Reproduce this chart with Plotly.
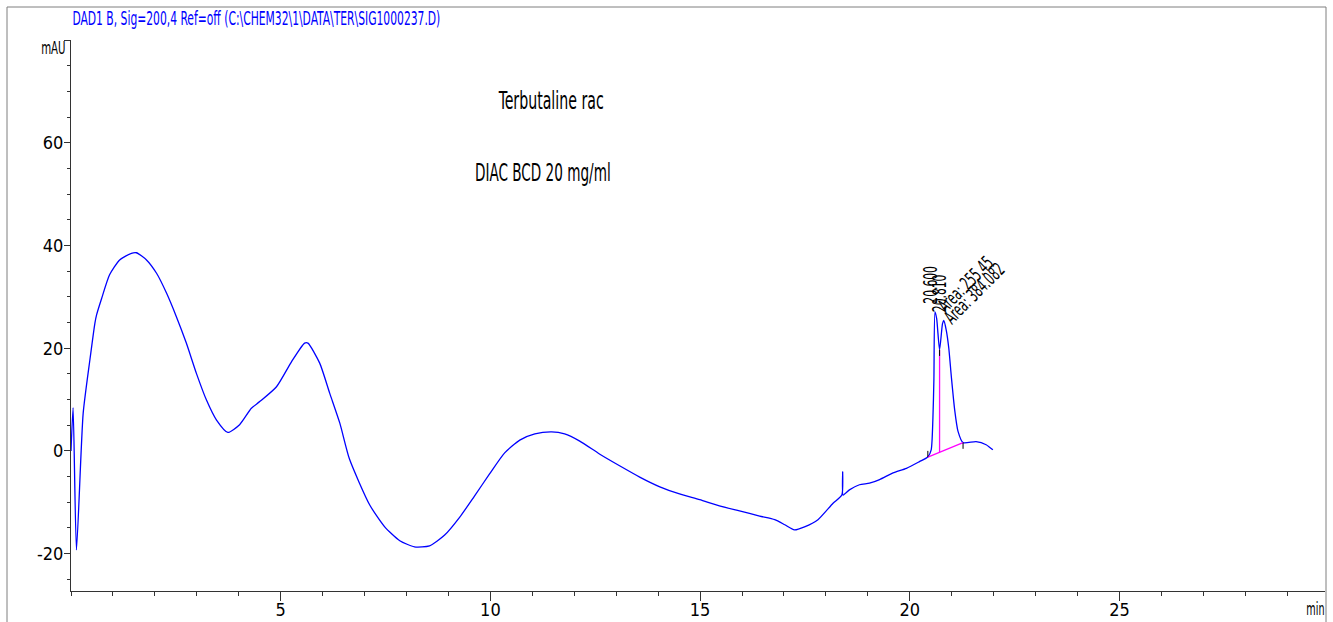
import json
import plotly.graph_objects as go

# Chromatogram: DAD1 B, 200 nm
time_min = [
    0.00, 0.05, 0.13, 0.29, 0.45, 0.57, 0.61, 0.73, 0.92, 1.16, 1.44, 1.56,
    1.80, 2.04, 2.28, 2.51, 2.75, 2.99, 3.23, 3.47, 3.74, 4.02, 4.30, 4.50,
    4.90, 5.26, 5.57, 5.65, 5.93, 6.17, 6.41, 6.64, 7.12, 7.48, 7.84, 8.19,
    8.55, 8.91, 9.27, 9.62, 9.98, 10.34, 10.70, 11.06, 11.46, 11.77, 12.13,
    12.60, 13.08, 13.56, 14.04, 14.51, 14.99, 15.46, 15.94, 16.42, 16.78,
    17.02, 17.25, 17.49, 17.81, 18.17, 18.38, 18.40, 18.41, 18.56, 18.80,
    19.04, 19.28, 19.60, 19.92, 20.23, 20.43, 20.51, 20.55, 20.575, 20.600,
    20.64, 20.71, 20.78, 20.810, 20.87, 20.93, 20.99, 21.07, 21.15, 21.27,
    21.58, 21.82, 21.98,
]
signal_mau = [
    0.0, 8.4, -19.3, 7.3, 17.7, 24.9, 26.5, 29.7, 34.3, 37.2, 38.5, 38.6,
    37.2, 34.6, 30.7, 26.2, 21.0, 15.1, 9.9, 6.0, 3.6, 5.1, 8.3, 9.6,
    12.5, 17.4, 21.0, 21.0, 17.1, 11.2, 5.4, -1.6, -10.5, -14.8, -17.5, -18.7,
    -18.5, -16.4, -12.9, -8.8, -4.5, -0.4, 2.1, 3.3, 3.7, 3.3, 1.9,
    -0.6, -2.9, -5.1, -7.0, -8.4, -9.5, -10.7, -11.7, -12.7, -13.4,
    -14.4, -15.4, -14.8, -13.4, -10.2, -8.6, -4.1, -8.6, -7.6, -6.6,
    -6.3, -5.6, -4.3, -3.4, -2.1, -1.2, 0.2, 6.0, 14.0, 27.1,
    25.8, 19.7, 24.8, 25.4, 23.5, 20.0, 14.5, 8.0, 3.8, 1.6,
    1.8, 1.2, 0.2,
]

# Integrated peaks
peak_rt = [20.600, 20.810]
peak_apex = [27.1, 25.4]
peak_area = ["255.45", "384.082"]
baseline_t = [20.43, 21.27]
baseline_v = [-1.2, 1.6]
split_t = 20.71
split_v = 19.7

title_text = "DAD1 B, Sig=200,4 Ref=off (C:\\CHEM32\\1\\DATA\\TER\\SIG1000237.D)"
sample_text = "Terbutaline rac"
selector_text = "DIAC BCD 20 mg/ml"

x_ticks = [5, 10, 15, 20, 25]
y_ticks = [-20, 0, 20, 40, 60, 80]
y_labels = ["-20", "0", "20", "40", "60", ""]

W, H = 1333, 622
ML, MR, MT, MB = 71, 8, 40, 31
PW, PH = W - ML - MR, H - MT - MB

FONT = "DejaVu Sans Condensed, DejaVu Sans, sans-serif"
SQUEEZE = 0.63  # horizontal compression of the report lettering


def px(xp):
    return (xp - ML) / PW


def py(yp):
    return (H - MB - yp) / PH


fig = go.Figure()

fig.add_trace(go.Scatter(
    x=time_min, y=signal_mau, mode="lines",
    line=dict(color="#0000FF", width=1.3, shape="spline", smoothing=0.6),
    hoverinfo="skip",
))

# baseline and drop line of the integrated pair
base_at_split = baseline_v[0] + (split_t - baseline_t[0]) / (baseline_t[1] - baseline_t[0]) * (baseline_v[1] - baseline_v[0])
fig.add_trace(go.Scatter(
    x=[baseline_t[0], baseline_t[1], None, split_t, split_t],
    y=[baseline_v[0], baseline_v[1], None, base_at_split, split_v],
    mode="lines", line=dict(color="#FF00FF", width=1.3), hoverinfo="skip",
))

# peak start / valley / stop markers
fig.add_trace(go.Scatter(
    x=[baseline_t[0], baseline_t[0], None, split_t, split_t, None, baseline_t[1], baseline_t[1]],
    y=[baseline_v[0], baseline_v[0] + 1.2, None, split_v, split_v - 1.2, None, baseline_v[1], baseline_v[1] - 1.2],
    mode="lines", line=dict(color="#000000", width=1), hoverinfo="skip",
))


def label(text, x, y, size, color="#000000"):
    return dict(text=text, xref="paper", yref="paper", x=px(x), y=py(y),
                xanchor="center", yanchor="middle", showarrow=False,
                font=dict(family=FONT, size=size, color=color))


annotations = [
    label(title_text, 256, 18, 19, "#0000FF"),
    label("mAU", 53, 48, 18),
    label("min", 1315, 609, 17),
    label(sample_text, 551, 100, 25),
    label(selector_text, 543, 173, 24),
]

for rt, apex, area in zip(peak_rt, peak_apex, peak_area):
    annotations.append(dict(
        text=f"{rt:.3f}", x=rt, y=apex, xref="x", yref="y",
        textangle=-90, xanchor="center", yanchor="middle",
        xshift=-5, yshift=27, showarrow=False,
        font=dict(family=FONT, size=19, color="#000000")))
    annotations.append(dict(
        text=f"Area: {area}", x=rt, y=apex, xref="x", yref="y",
        textangle=-45, xanchor="center", yanchor="middle",
        xshift=30, yshift=28, showarrow=False,
        font=dict(family=FONT, size=19, color="#000000")))

# outer frame of the report page
shapes = [
    dict(type="rect", xref="paper", yref="paper",
         x0=px(7), x1=px(1326), y0=py(640), y1=py(7),
         line=dict(color="#7f7f7f", width=1), layer="below"),
]

fig.update_layout(
    width=W, height=H,
    margin=dict(l=ML, r=MR, t=MT, b=MB, pad=0, autoexpand=False),
    paper_bgcolor="white", plot_bgcolor="white",
    showlegend=False,
    annotations=annotations, shapes=shapes,
    font=dict(family=FONT, size=17, color="#000000"),
    xaxis=dict(
        range=[0, 29.9], tickvals=x_ticks, ticktext=[str(v) for v in x_ticks],
        ticks="outside", ticklen=9, tickwidth=1, tickcolor="#333333",
        showline=True, linecolor="#333333", linewidth=1, automargin=False,
        showgrid=False, zeroline=False, ticklabelstandoff=-7,
        tickfont=dict(family=FONT, size=18, color="#000000"),
        minor=dict(dtick=1, tick0=0, ticks="outside", ticklen=4,
                   tickcolor="#333333", showgrid=False),
    ),
    yaxis=dict(
        range=[-27.3, 80.05], tickvals=y_ticks, ticktext=y_labels,
        ticks="outside", ticklen=6, tickwidth=1, tickcolor="#333333",
        showline=True, linecolor="#333333", linewidth=1, automargin=False,
        showgrid=False, zeroline=False, ticklabelstandoff=-3,
        tickfont=dict(family=FONT, size=18, color="#000000"),
        minor=dict(dtick=5, tick0=0, ticks="outside", ticklen=3,
                   tickcolor="#333333", showgrid=False),
    ),
)

# compress annotation lettering horizontally around each label's centre
squeeze_js = """
var gd = document.getElementById('{plot_id}');
var k = %s;
gd.querySelectorAll('g.annotation text.annotation-text').forEach(function (t) {
  t.style.transformBox = 'fill-box';
  t.style.transformOrigin = 'center';
  t.style.transform = 'scaleX(' + k + ')';
});
""" % json.dumps(SQUEEZE)

fig.write_html("out.html", post_script=squeeze_js)
